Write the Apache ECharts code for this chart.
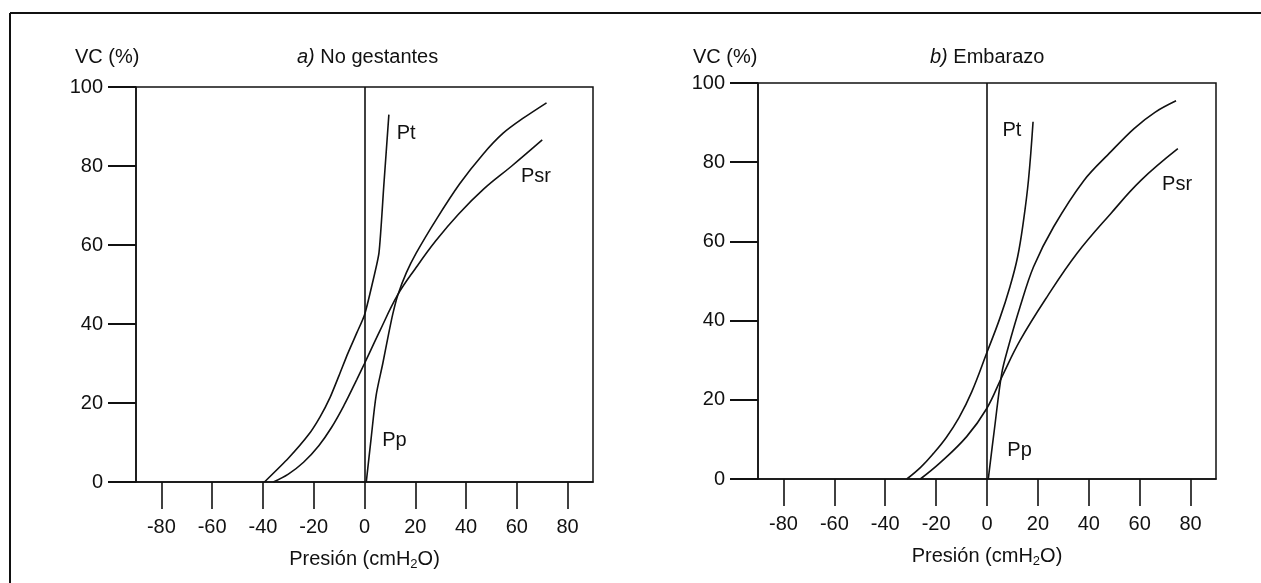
<!DOCTYPE html>
<html>
<head>
<meta charset="utf-8">
<script src="https://cdn.jsdelivr.net/npm/echarts@6/dist/echarts.min.js"></script>
<style>
html,body{margin:0;padding:0;background:#fff;}
#chart{width:1261px;height:583px;}
</style>
</head>
<body>
<div id="chart"></div>
<script>
// ---- data ----
const xTicks = [-80, -60, -40, -20, 0, 20, 40, 60, 80];
const yTicks = [0, 20, 40, 60, 80, 100];

// a) No gestantes
const ptA  = [[-39.4,0],[-30,6],[-22,12],[-17.5,16.5],[-13.5,21.5],[-10,27],[-6.6,32.5],[-3,37.8],[0,42.3],[3,50],[5.7,58],[7.6,75],[9.6,93]];
const ppA  = [[0.7,0],[2.6,11],[4.6,22],[7.2,30],[9.5,37.5],[11.2,42.7],[13.1,47.3],[16.5,53],[20.4,58],[28.3,66.5],[37.5,75.5],[46.7,83],[54.6,88.3],[62.5,92.1],[71.7,96]];
const psrA = [[-35.9,0],[-30,2],[-24,5],[-18,9.2],[-13,13.8],[-8,19.5],[-3,26],[0,30],[6,38.2],[13,47.3],[20,54],[28,61],[37,67.8],[47,74.2],[58,80],[70,86.6]];

// b) Embarazo
const ptB  = [[-31.5,0],[-26,3],[-21,6.5],[-16,10.5],[-11,15.5],[-6,22],[0,32],[5,40.5],[9,48.5],[12,56],[14.3,65],[16.3,75.5],[18.1,90.2]];
const ppB  = [[0.5,0],[3,13],[5.8,26.7],[8.4,33.4],[13,43.5],[18.3,53.6],[26.2,63.7],[38.1,75.4],[48.6,82.6],[57.8,88.5],[66,92.6],[74.3,95.5]];
const psrB = [[-26.2,0],[-18.6,4],[-8,10.7],[-0.1,17.8],[6,26],[13,35],[23.6,46],[35.4,57],[48.6,67],[60.5,75.4],[75,83.4]];

// curve labels (name, x, y in data units)
const labelsA = [{name:'Pt', value:[16.4,88.3]},{name:'Psr', value:[67.5,77.3]},{name:'Pp', value:[11.8,10.6]}];
const labelsB = [{name:'Pt', value:[9.8,87.9]},{name:'Psr', value:[74.7,74.4]},{name:'Pp', value:[12.8,7.3]}];

const FONT = "'Liberation Sans', Arial, Helvetica, sans-serif";
const INK = '#111';

function xAxisCfg(gi){
  return {
    type:'value', gridIndex:gi, min:-90, max:90,
    axisLine:{show:true, onZero:false, lineStyle:{color:INK, width:1.5}},
    axisTick:{show:true, inside:false, length:27, customValues:xTicks, lineStyle:{color:INK, width:1.6}},
    axisLabel:{customValues:xTicks, margin:35, fontSize:20, color:INK, fontFamily:FONT},
    splitLine:{show:false},
    name:'Presión (cmH{s|2}O)', nameLocation:'middle', nameGap:65,
    nameTextStyle:{fontSize:20, color:INK, fontFamily:FONT,
      rich:{s:{fontSize:13, color:INK, fontFamily:FONT, padding:[11,0,0,0]}}}
  };
}
function yAxisCfg(gi){
  return {
    type:'value', gridIndex:gi, min:0, max:100, interval:20,
    axisLine:{show:true, onZero:false, lineStyle:{color:INK, width:1.5}},
    axisTick:{show:true, inside:false, length:28, customValues:yTicks, lineStyle:{color:INK, width:2}},
    axisLabel:{customValues:yTicks, margin:33, fontSize:20, color:INK, fontFamily:FONT},
    splitLine:{show:false}
  };
}
function curve(data, gi, smooth, extra){
  return Object.assign({
    type:'line', xAxisIndex:gi, yAxisIndex:gi, data:data, smooth:smooth,
    showSymbol:false, symbol:'none', lineStyle:{color:INK, width:1.6}, silent:true
  }, extra||{});
}
function zeroLine(){
  return {silent:true, symbol:['none','none'], label:{show:false},
    lineStyle:{color:INK, width:1.6, type:'solid'}, data:[{xAxis:0}]};
}
function labelSeries(data, gi){
  return {type:'scatter', xAxisIndex:gi, yAxisIndex:gi, data:data, symbolSize:0,
    itemStyle:{color:INK}, silent:true,
    label:{show:true, position:'inside', formatter:'{b}', fontSize:20, color:INK, opacity:1,
      textBorderWidth:0, fontFamily:FONT}};
}
const titleStyle = {fontSize:20, fontWeight:'normal', color:INK, fontFamily:FONT,
  rich:{i:{fontStyle:'italic', fontSize:20, color:INK, fontFamily:FONT}}};

const chart = echarts.init(document.getElementById('chart'), null, {renderer:'canvas'});
chart.setOption({
  animation:false,
  backgroundColor:'#fff',
  title:[
    {text:'VC (%)', left:75, top:47, padding:0, textStyle:titleStyle},
    {text:'{i|a)} No gestantes', left:297, top:47, padding:0, textStyle:titleStyle},
    {text:'VC (%)', left:693, top:47, padding:0, textStyle:titleStyle},
    {text:'{i|b)} Embarazo', left:930, top:47, padding:0, textStyle:titleStyle}
  ],
  grid:[
    {left:136, top:87, width:457, height:395, show:true, borderColor:INK, borderWidth:1.5, backgroundColor:'transparent'},
    {left:758, top:83, width:458, height:396, show:true, borderColor:INK, borderWidth:1.5, backgroundColor:'transparent'}
  ],
  xAxis:[xAxisCfg(0), xAxisCfg(1)],
  yAxis:[yAxisCfg(0), yAxisCfg(1)],
  graphic:[
    {type:'line', shape:{x1:10, y1:13, x2:10, y2:583}, style:{stroke:INK, lineWidth:2}},
    {type:'line', shape:{x1:10, y1:13, x2:1261, y2:13}, style:{stroke:INK, lineWidth:2}}
  ],
  series:[
    curve(ptA, 0, 0.2, {markLine:zeroLine()}),
    curve(ppA, 0, 0.3),
    curve(psrA, 0, 0.4),
    labelSeries(labelsA, 0),
    curve(ptB, 1, 0.4, {markLine:zeroLine()}),
    curve(ppB, 1, 0.35),
    curve(psrB, 1, 0.4),
    labelSeries(labelsB, 1)
  ]
});
</script>
</body>
</html>
